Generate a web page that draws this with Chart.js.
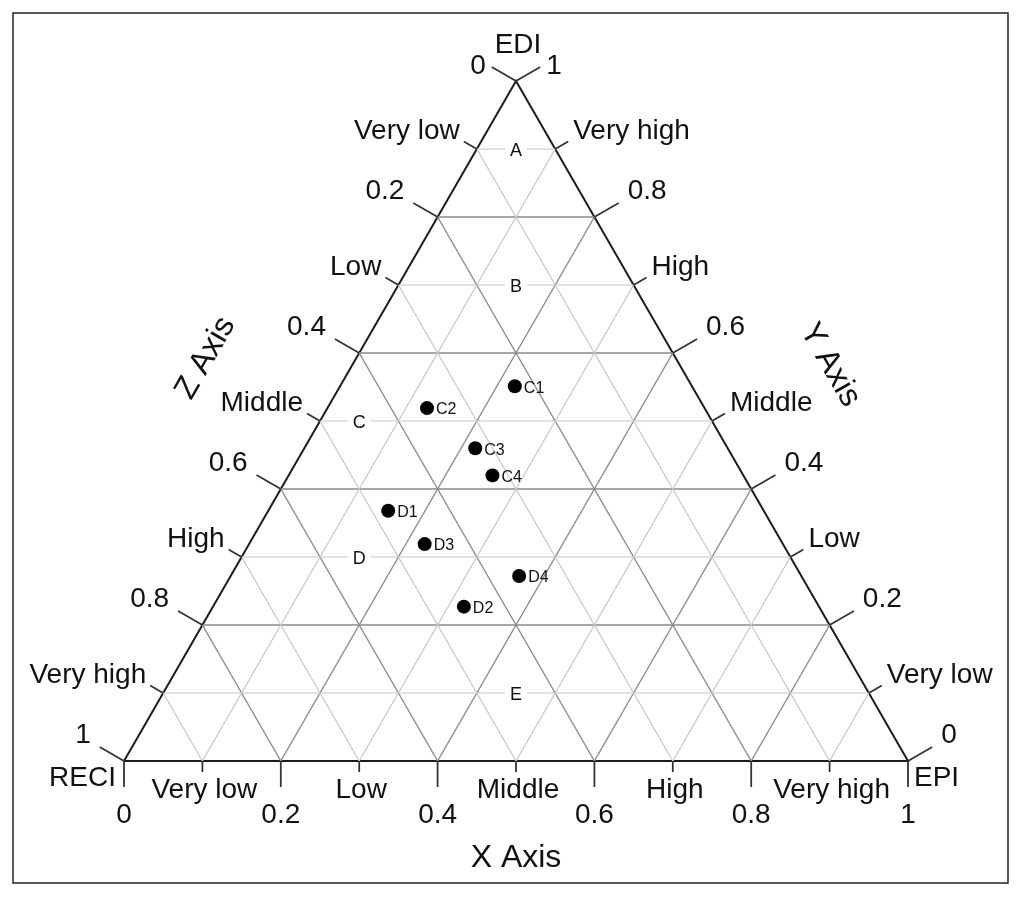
<!DOCTYPE html>
<html>
<head>
<meta charset="utf-8">
<script src="https://cdn.jsdelivr.net/npm/chart.js@4.4.0/dist/chart.umd.min.js"></script>
<style>
  html, body { margin: 0; padding: 0; background: #fff; }
</style>
</head>
<body>
<canvas id="ternary" width="1024" height="900"></canvas>
<script>
// samples: X axis (EPI) and Y axis (EDI); Z axis (RECI) = 1 - X - Y
const sampleNames = ["C1", "C2", "C3", "C4", "D1", "D2", "D3", "D4"];
const sampleX = [0.223, 0.127, 0.218, 0.260, 0.153, 0.320, 0.224, 0.368];
const sampleY = [0.551, 0.519, 0.460, 0.420, 0.368, 0.227, 0.319, 0.272];

// zone letters sitting on the horizontal grid lines
const zoneNames = ["A", "B", "C", "D", "E"];
const zoneX = [0.05, 0.15, 0.05, 0.15, 0.45];
const zoneY = [0.9, 0.7, 0.5, 0.3, 0.1];

const tickValues = [0, 0.2, 0.4, 0.6, 0.8, 1];
const tickLabels = ["0", "0.2", "0.4", "0.6", "0.8", "1"];
const classValues = [0.1, 0.3, 0.5, 0.7, 0.9];
const classLabels = ["Very low", "Low", "Middle", "High", "Very high"];
const gridMinor = [0.1, 0.3, 0.5, 0.7, 0.9];
const gridMajor = [0.2, 0.4, 0.6, 0.8];

const FONT = "'Liberation Sans', Arial, sans-serif";
const S3 = Math.sqrt(3) / 2;

// ternary (X, Y) -> plot coordinates
function tern(x, y) { return { x: x + y / 2, y: y }; }

function lineSet(data, color, width) {
  return { data, showLine: true, borderColor: color, borderWidth: width,
           pointRadius: 0, pointHoverRadius: 0, clip: false, fill: false };
}

function gridSets(levels, color, width) {
  const sets = [];
  levels.forEach(t => {
    sets.push(lineSet([tern(0, t), tern(1 - t, t)], color, width));     // Y = t
    sets.push(lineSet([tern(t, 0), tern(t, 1 - t)], color, width));     // X = t
    sets.push(lineSet([tern(0, 1 - t), tern(1 - t, 0)], color, width)); // Z = t
  });
  return sets;
}

const ternaryText = {
  id: "ternaryText",
  afterDatasetsDraw(chart) {
    const { ctx, scales: { x, y } } = chart;
    const px = (X, Y) => ({ x: x.getPixelForValue(X + Y / 2), y: y.getPixelForValue(Y) });

    // three axes: where value v sits, and which way is outward
    const axes = {
      bottom: { at: v => px(v, 0), n: [0, 1] },
      left: { at: v => px(0, 1 - v), n: [-S3, -0.5] },
      right: { at: v => px(1 - v, v), n: [S3, -0.5] }
    };

    ctx.save();
    ctx.strokeStyle = "#333";
    ctx.lineWidth = 1.8;
    ctx.fillStyle = "#111";

    const drawTick = (p, n, len) => {
      ctx.beginPath();
      ctx.moveTo(p.x, p.y);
      ctx.lineTo(p.x + n[0] * len, p.y + n[1] * len);
      ctx.stroke();
      return { x: p.x + n[0] * len, y: p.y + n[1] * len };
    };

    ctx.font = "28px " + FONT;
    // bottom X axis
    tickValues.forEach((v, i) => {
      const p = axes.bottom.at(v);
      drawTick(p, axes.bottom.n, 26);
      ctx.textAlign = "center";
      ctx.fillText(tickLabels[i], p.x, p.y + 62);
    });
    classValues.forEach((v, i) => {
      const p = axes.bottom.at(v);
      drawTick(p, axes.bottom.n, 11);
      ctx.textAlign = "center";
      ctx.fillText(classLabels[i], p.x + 2, p.y + 37);
    });

    // left Z axis
    tickValues.forEach((v, i) => {
      const e = drawTick(axes.left.at(v), axes.left.n, 28);
      ctx.textAlign = "right";
      if (v === 0) ctx.fillText(tickLabels[i], e.x - 6, e.y + 7);
      else ctx.fillText(tickLabels[i], e.x - 9, e.y - 4);
    });
    classValues.forEach((v, i) => {
      const e = drawTick(axes.left.at(v), axes.left.n, 15);
      ctx.textAlign = "right";
      ctx.fillText(classLabels[i], e.x - 4, e.y - 3);
    });

    // right Y axis
    tickValues.forEach((v, i) => {
      const e = drawTick(axes.right.at(v), axes.right.n, 28);
      ctx.textAlign = "left";
      if (v === 1) ctx.fillText(tickLabels[i], e.x + 6, e.y + 7);
      else ctx.fillText(tickLabels[i], e.x + 9, e.y - 4);
    });
    classValues.forEach((v, i) => {
      const e = drawTick(axes.right.at(v), axes.right.n, 15);
      ctx.textAlign = "left";
      ctx.fillText(classLabels[i], e.x + 5, e.y - 3);
    });

    // vertex names
    const top = px(0, 1), bl = px(0, 0), br = px(1, 0);
    ctx.textAlign = "center";
    ctx.fillText("EDI", top.x + 2, top.y - 28);
    ctx.textAlign = "right";
    ctx.fillText("RECI", bl.x - 8, bl.y + 25);
    ctx.textAlign = "left";
    ctx.fillText("EPI", br.x + 6, br.y + 25);

    // axis titles
    ctx.font = "32px " + FONT;
    ctx.textAlign = "center";
    ctx.textBaseline = "middle";
    ctx.fillText("X Axis", (bl.x + br.x) / 2, bl.y + 97);
    const lm = axes.left.at(0.5), rm = axes.right.at(0.5);
    ctx.save();
    ctx.translate(lm.x + axes.left.n[0] * 132, lm.y + axes.left.n[1] * 132 + 3);
    ctx.rotate(-Math.PI / 3);
    ctx.fillText("Z Axis", 0, 0);
    ctx.restore();
    ctx.save();
    ctx.translate(rm.x + axes.right.n[0] * 134 + 2, rm.y + axes.right.n[1] * 134 + 11);
    ctx.rotate(Math.PI / 3);
    ctx.fillText("Y Axis", 0, 0);
    ctx.restore();

    // zone letters with a white gap in the grid line
    ctx.font = "18px " + FONT;
    ctx.textBaseline = "alphabetic";
    ctx.textAlign = "center";
    zoneNames.forEach((name, i) => {
      const p = px(zoneX[i], zoneY[i]);
      const w = ctx.measureText(name).width;
      ctx.fillStyle = "#fff";
      ctx.fillRect(p.x - w / 2 - 5, p.y - 3, w + 10, 6);
      ctx.fillStyle = "#111";
      ctx.fillText(name, p.x, p.y + 7);
    });

    // sample labels
    ctx.font = "16px " + FONT;
    ctx.textAlign = "left";
    ctx.textBaseline = "middle";
    sampleNames.forEach((name, i) => {
      const p = px(sampleX[i], sampleY[i]);
      ctx.fillText(name, p.x + 9, p.y + 2);
    });

    // frame
    ctx.strokeStyle = "#222";
    ctx.lineWidth = 1.5;
    ctx.strokeRect(13, 13, 995, 870);
    ctx.restore();
  }
};

const outline = [tern(0, 0), tern(1, 0), tern(0, 1), tern(0, 0)];

new Chart(document.getElementById("ternary"), {
  type: "scatter",
  data: {
    datasets: [
      ...gridSets(gridMinor, "#c6c6c6", 1.2),
      ...gridSets(gridMajor, "#8a8a8a", 1.4),
      lineSet(outline, "#1c1c1c", 2),
      {
        data: sampleNames.map((n, i) => tern(sampleX[i], sampleY[i])),
        pointRadius: 7,
        pointHoverRadius: 7,
        backgroundColor: "#000",
        borderWidth: 0,
        clip: false
      }
    ]
  },
  options: {
    responsive: false,
    animation: false,
    devicePixelRatio: 1,
    layout: { padding: { left: 124, right: 116, top: 81, bottom: 139 } },
    scales: {
      x: { type: "linear", min: 0, max: 1, display: false },
      y: { type: "linear", min: 0, max: 1, display: false }
    },
    plugins: { legend: { display: false }, tooltip: { enabled: false } }
  },
  plugins: [ternaryText]
});
</script>
</body>
</html>
